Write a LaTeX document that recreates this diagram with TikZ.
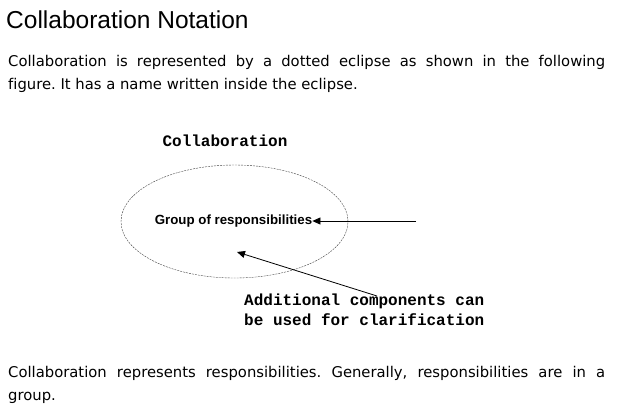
\documentclass[tikz,border=0pt]{standalone}
\usepackage{fontspec}
\setmainfont[Ligatures=NoCommon]{Liberation Sans}
\newfontfamily\verd[Ligatures=NoCommon]{DejaVu Sans}
\newfontfamily\cour{Liberation Mono}
\usetikzlibrary{shapes.geometric,arrows.meta}
\frenchspacing
\begin{document}
\begin{tikzpicture}[x=1pt,y=-1pt,
  mono/.style={font=\cour\bfseries\fontsize{16}{20}\selectfont, inner sep=0pt},
  pointer/.style={-{Triangle[length=8pt,width=7pt]}, thick}]
\useasboundingbox (0,0) rectangle (623,415);

\node[anchor=base west, inner sep=0pt, font=\fontsize{24.5}{28}\selectfont] (title) at (6,28) {Collaboration Notation};
\node[anchor=base west, inner sep=0pt, font=\verd\fontsize{14.8}{18}\selectfont] (introa) at (8,66)
  {\makebox[597pt][s]{Collaboration is represented by a dotted eclipse as shown in the following}};
\node[anchor=base west, inner sep=0pt, font=\verd\fontsize{14.8}{18}\selectfont] (introb) at (8,89)
  {figure. It has a name written inside the eclipse.};

\node[mono] (name) at (225,141) {Collaboration};
\node[draw, ellipse, black!75, dash pattern=on 2pt off 1pt, minimum width=227pt, minimum height=113pt] (collab) at (234.5,221.5) {};
\node[inner sep=0pt, font=\bfseries\fontsize{13.3}{16}\selectfont] (resp) at (233.5,221) {Group of responsibilities};
\coordinate (from) at (416,221);
\draw[pointer] (from) -- (resp.east);

\node[mono, anchor=north west, align=left] (note) at (244,294) {Additional components can\\be used for clarification};
\coordinate (tail) at (377,296);
\coordinate (tip) at (237,252);
\draw[pointer] (tail) -- (tip);

\node[anchor=base west, inner sep=0pt, font=\verd\fontsize{14.8}{18}\selectfont] (outroa) at (8,377)
  {\makebox[597pt][s]{Collaboration represents responsibilities. Generally, responsibilities are in a}};
\node[anchor=base west, inner sep=0pt, font=\verd\fontsize{14.8}{18}\selectfont] (outrob) at (8,400) {group.};
\end{tikzpicture}
\end{document}
